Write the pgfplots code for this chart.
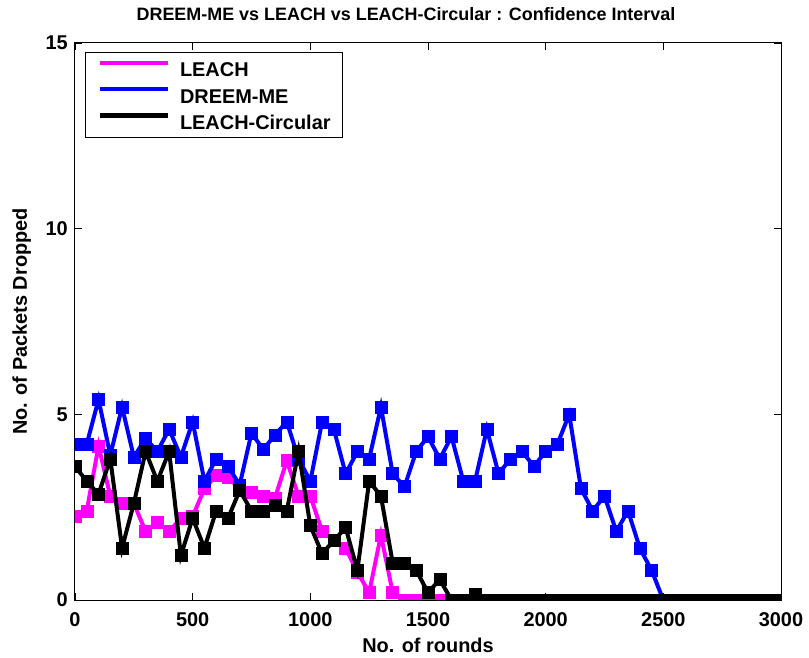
\documentclass[border=0pt]{standalone}
\usepackage{pgfplots}
\usepackage{pgfplotstable}
\pgfplotsset{compat=1.18}
\usepackage{fontspec}
\setmainfont{Liberation Sans}
\definecolor{mag}{rgb}{1,0,1}
\definecolor{blu}{rgb}{0,0,1}
\pgfplotstableread{
x leach dreem circ
0 2.25 4.2 3.6
50 2.4 4.2 3.2
100 4.15 5.4 2.85
150 2.8 3.9 3.8
200 2.6 5.2 1.4
250 2.6 3.85 2.6
300 1.85 4.35 4.0
350 2.1 4.0 3.2
400 1.85 4.6 4.0
450 2.2 3.85 1.2
500 2.25 4.8 2.2
550 3.0 3.2 1.4
600 3.35 3.8 2.4
650 3.3 3.6 2.2
700 3.0 3.1 2.95
750 2.9 4.5 2.4
800 2.8 4.05 2.4
850 2.75 4.45 2.55
900 3.75 4.8 2.4
950 2.8 3.8 4.0
1000 2.8 3.2 2.0
1050 1.85 4.8 1.25
1100 1.6 4.6 1.6
1150 1.4 3.4 1.95
1200 0.75 4.0 0.8
1250 0.2 3.8 3.2
1300 1.75 5.2 2.8
1350 0.2 3.4 1.0
1400 0 3.05 1.0
1450 0 4.0 0.8
1500 0 4.4 0.2
1550 0 3.8 0.55
1600 0 4.4 0
1650 0 3.2 0
1700 0 3.2 0.15
1750 0 4.6 0
1800 0 3.4 0
1850 0 3.8 0
1900 0 4.0 0
1950 0 3.6 0
2000 0 4.0 0
2050 0 4.2 0
2100 0 5.0 0
2150 0 3.0 0
2200 0 2.4 0
2250 0 2.8 0
2300 0 1.85 0
2350 0 2.4 0
2400 0 1.4 0
2450 0 0.8 0
2500 0 0 0
2550 0 0 0
2600 0 0 0
2650 0 0 0
2700 0 0 0
2750 0 0 0
2800 0 0 0
2850 0 0 0
2900 0 0 0
2950 0 0 0
3000 0 0 0
}\datatable
\begin{document}
\begin{tikzpicture}
\begin{axis}[
  scale only axis, width=706bp, height=557bp,
  xmin=0, xmax=3000, ymin=0, ymax=15,
  xtick={0,500,1000,1500,2000,2500,3000}, ytick={0,5,10,15},
  tick align=inside, major tick length=7bp,
  tick style={black, line width=0.8bp},
  axis line style={line width=1bp},
  /pgf/number format/assume math mode=true,
  /pgf/number format/1000 sep={},
  scaled ticks=false,
  tick label style={font=\fontsize{20}{22}\selectfont\bfseries},
  x tick label style={inner sep=0pt, anchor=north, yshift=-12bp},
  y tick label style={inner sep=0pt, anchor=east, xshift=-7bp},
  xlabel={No. of rounds}, ylabel={No. of Packets Dropped},
  label style={font=\fontsize{20}{22}\selectfont\bfseries},
  xlabel style={at={(axis description cs:0.5,0)}, anchor=base, inner sep=0pt, yshift=-52bp},
  ylabel style={at={(axis description cs:-0.068,0.5)}, anchor=base, inner sep=0pt},
  title={DREEM-ME vs LEACH vs LEACH-Circular : Confidence Interval},
  title style={font=\fontsize{18}{20}\selectfont\bfseries, at={(axis description cs:0.5,1)}, anchor=base, inner sep=0pt, yshift=17bp, xshift=-22bp},
  clip marker paths=true,
  legend style={at={(axis description cs:0.0142,0.9838)}, anchor=north west,
    font=\fontsize{20}{22}\selectfont\bfseries, draw=black, line width=1bp,
    inner xsep=12bp, inner ysep=8bp, row sep=10bp, column sep=10bp,
    nodes={inner sep=0pt, text height=14bp, text depth=0bp}},
  legend cell align=left,
  legend image code/.code={\draw[#1,mark=none,line width=4.5bp] (0bp,7bp) -- (68bp,7bp);},
  every axis plot/.append style={line width=4bp, mark=square*, mark size=6bp, mark options={solid, line width=0.5bp}},
]
\addplot[color=mag] table[x=x, y=leach] {\datatable};
\addlegendentry{LEACH}
\addplot[color=blu] table[x=x, y=dreem] {\datatable};
\addlegendentry{DREEM-ME}
\addplot[color=black] table[x=x, y=circ] {\datatable};
\addlegendentry{LEACH-Circular}
\end{axis}
\path (current axis.south west) ++(-75bp,-58bp) coordinate (bba) ++(809bp,658bp) coordinate (bbb);
\pgfresetboundingbox
\useasboundingbox (bba) rectangle (bbb);
\end{tikzpicture}
\end{document}
